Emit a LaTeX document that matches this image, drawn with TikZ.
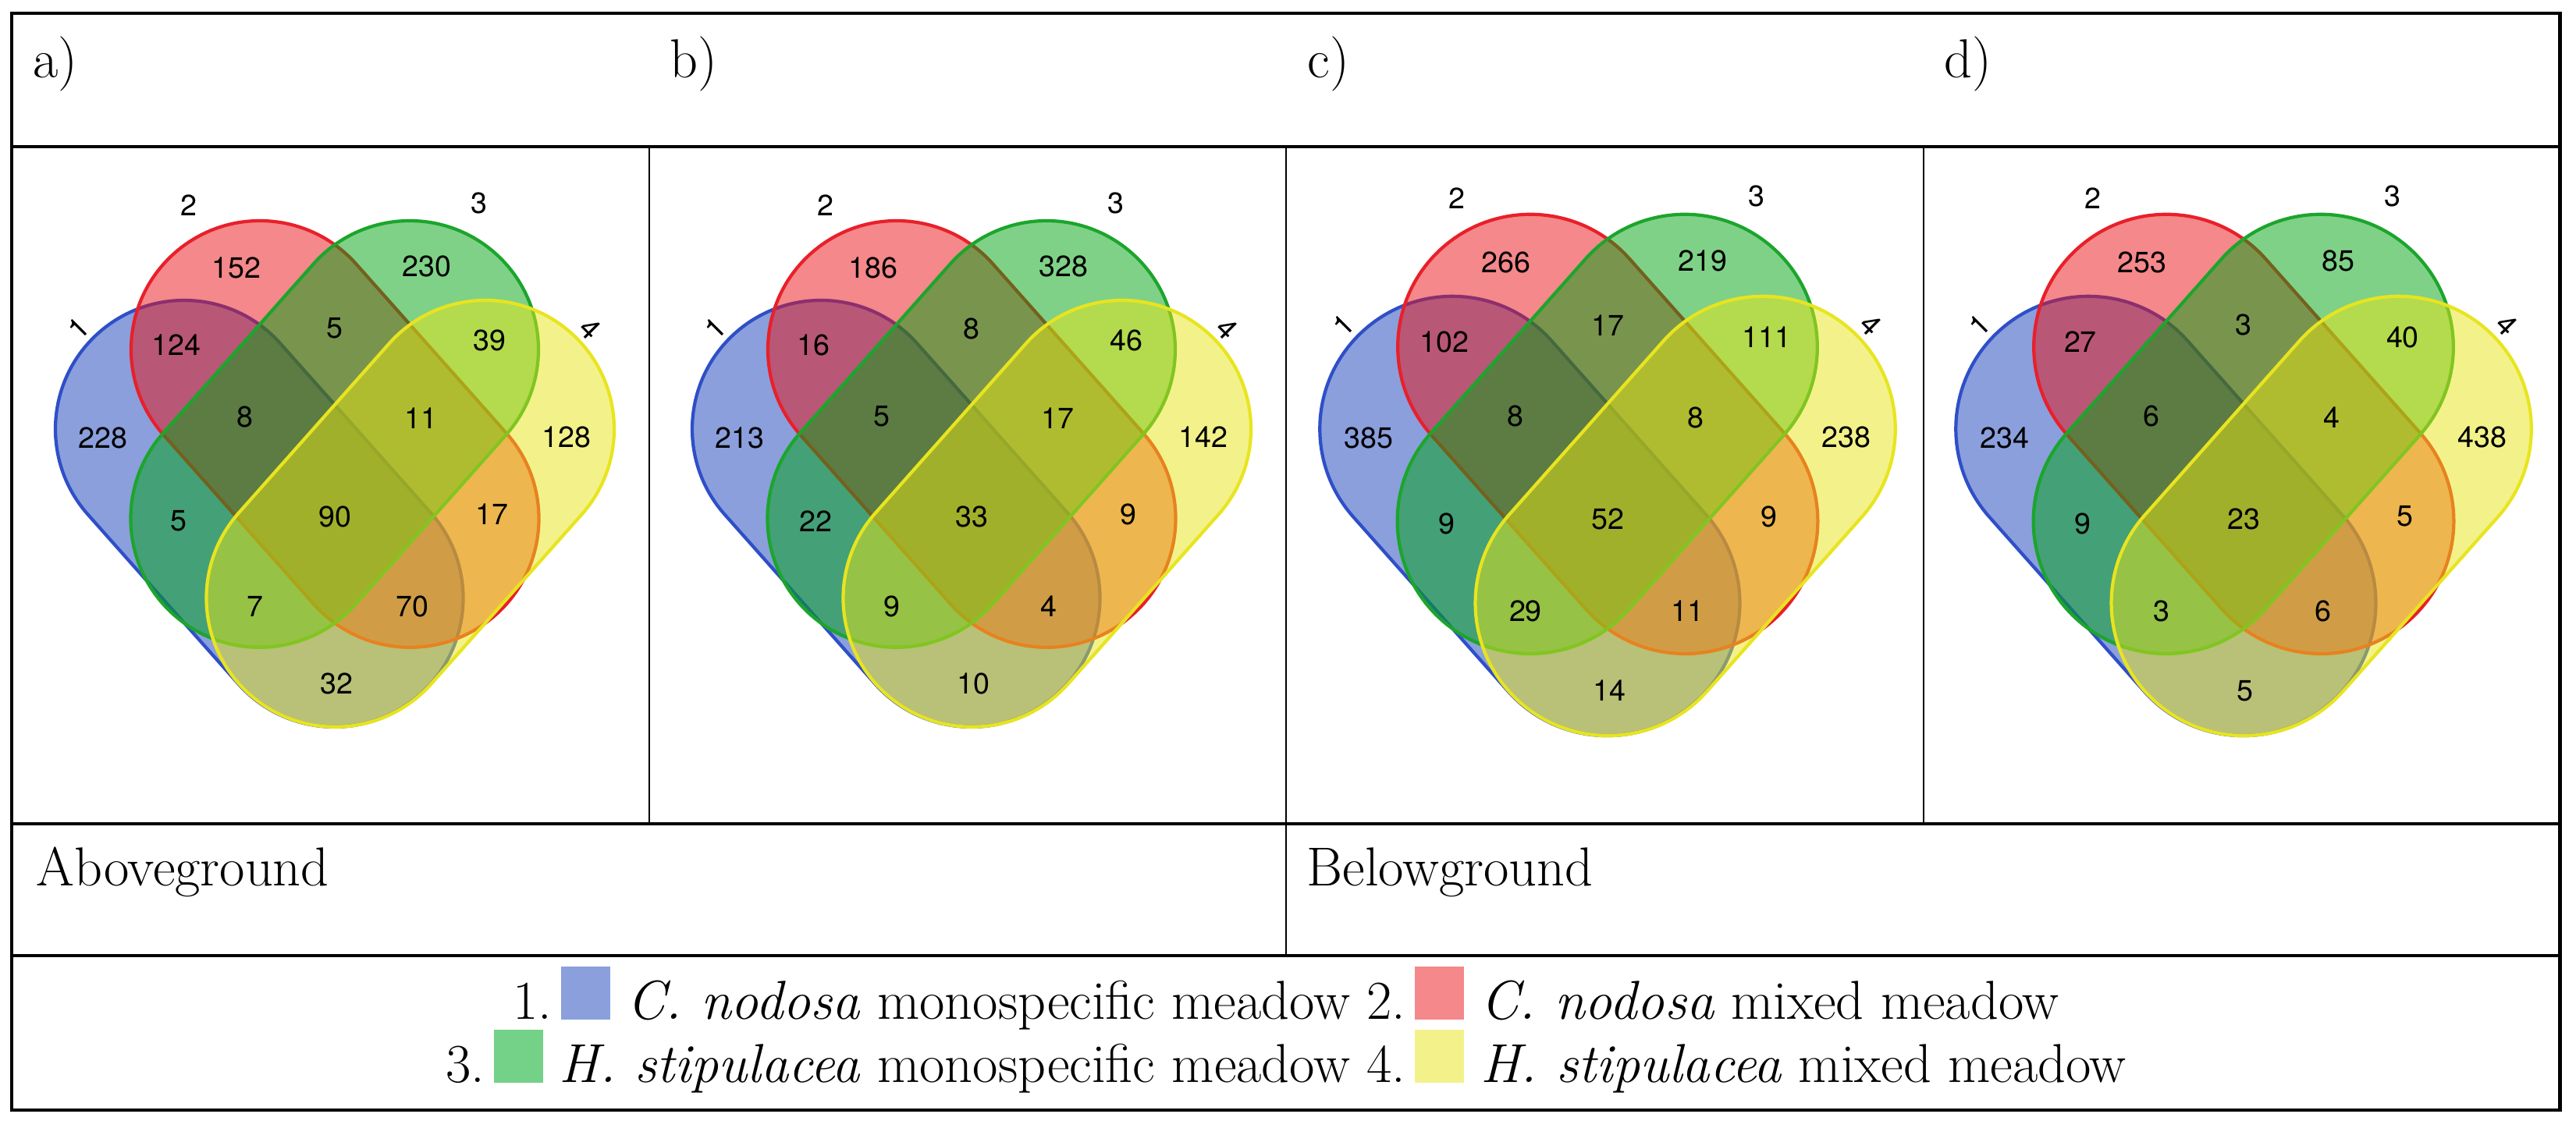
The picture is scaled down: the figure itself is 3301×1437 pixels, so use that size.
\documentclass[tikz,border=0pt]{standalone}
\usepackage{fontspec}
\newfontfamily\vennfont{TeX Gyre Heros}
\usepackage{tikz}

\definecolor{bluebase}{RGB}{21,63,185}
\definecolor{redbase}{RGB}{233,17,21}
\definecolor{greenbase}{RGB}{0,163,17}
\definecolor{yellowbase}{RGB}{231,229,21}
\definecolor{blueline}{RGB}{47,79,200}
\definecolor{redline}{RGB}{232,32,42}
\definecolor{greenline}{RGB}{28,165,44}
\definecolor{yellowline}{RGB}{232,228,32}
\definecolor{blueswatch}{RGB}{138,159,220}
\definecolor{redswatch}{RGB}{244,136,138}
\definecolor{greenswatch}{RGB}{116,209,136}
\definecolor{yellowswatch}{RGB}{243,242,138}

\tikzset{
  setshape/.style={fill=#1base, fill opacity=0.5, draw=#1line, line width=1.2pt},
  num/.style={font=\vennfont\fontsize{10.7}{12}\selectfont, inner sep=0pt},
  panel/.style={font=\fontsize{20}{24}\selectfont, anchor=base west, inner sep=0pt},
  frame/.style={line width=1.4pt},
  rowline/.style={line width=0.9pt},
  colline/.style={line width=0.5pt}
}

% one set: colour, upper cap centre, direction
\newcommand\vset[3]{%
  \path[setshape=#1] (#2) ++(#3+90:165) -- ++(#3:290)
    arc[start angle=#3+90, delta angle=-180, radius=165] -- ++(#3:-290)
    arc[start angle=#3-90, delta angle=-180, radius=165] -- cycle;}

\newcommand\swatch[1]{\textcolor{#1}{\rule{0.63cm}{0.68cm}}}

% one diagram: x of centre, scale, counts
\newcommand\venn[3]{%
  \begin{scope}[shift={(#1,880)}, scale=#2]
    \vset{blue}{-193,7}{-48.4}
    \vset{red}{-96,109}{-48.4}
    \vset{green}{96,109}{-131.6}
    \vset{yellow}{193,7}{-131.6}
    \node[num, rotate=45] (s1) at (-329,136) {1};
    \node[num] (s2) at (-187,294) {2};
    \node[num] (s3) at (185,297) {3};
    \node[num, rotate=-45] (s4) at (327,136) {4};
    \foreach \x/\y [count=\i from 0] in {-126/214, 118/216, -203/115, 0/136,
        198/121, -297/-4, -115/23, 110/21, 297/-3, -200/-111, 0/-105,
        201/-102, -102/-220, 99/-220, 2/-319} {
      \pgfmathtruncatemacro\v{{#3}[\i]}
      \node[num] (n\i) at (\x,\y) {\v};
    }
  \end{scope}}

\begin{document}
\begin{tikzpicture}[x=0.01cm, y=0.01cm]
  \useasboundingbox (0,0) rectangle (3301,1437);

  % diagrams
  \venn{429}{1}{152,230,124,5,39,228,8,11,128,5,90,17,7,70,32}
  \venn{1245}{1}{186,328,16,8,46,213,5,17,142,22,33,9,9,4,10}
  \venn{2060}{1.03}{266,219,102,17,111,385,8,8,238,9,52,9,29,11,14}
  \venn{2875}{1.03}{253,85,27,3,40,234,6,4,438,9,23,5,3,6,5}

  % table lines
  \draw[frame] (15,14) rectangle (3280,1420);
  \draw[rowline] (15,1249) -- (3280,1249);
  \draw[rowline] (15,381) -- (3280,381);
  \draw[rowline] (15,212) -- (3280,212);
  \foreach \x in {832,1648,2465}
    \draw[colline] (\x,1249) -- (\x,381);
  \draw[colline] (1648,381) -- (1648,212);

  % panel letters
  \node[panel] (la) at (42,1337) {a)};
  \node[panel] (lb) at (858,1337) {b)};
  \node[panel] (lc) at (1675,1337) {c)};
  \node[panel] (ld) at (2491,1337) {d)};
  \node[panel] (above) at (46,301) {Aboveground};
  \node[panel] (below) at (1674,301) {Belowground};

  % legend
  \node[panel, anchor=base] (leg1) at (1648,130)
    {1.\,\swatch{blueswatch}\ \textit{C. nodosa} monospecific meadow 2.\,\swatch{redswatch}\ \textit{C. nodosa} mixed meadow};
  \node[panel, anchor=base] (leg2) at (1648,49)
    {3.\,\swatch{greenswatch}\ \textit{H. stipulacea} monospecific meadow 4.\,\swatch{yellowswatch}\ \textit{H. stipulacea} mixed meadow};
\end{tikzpicture}
\end{document}
